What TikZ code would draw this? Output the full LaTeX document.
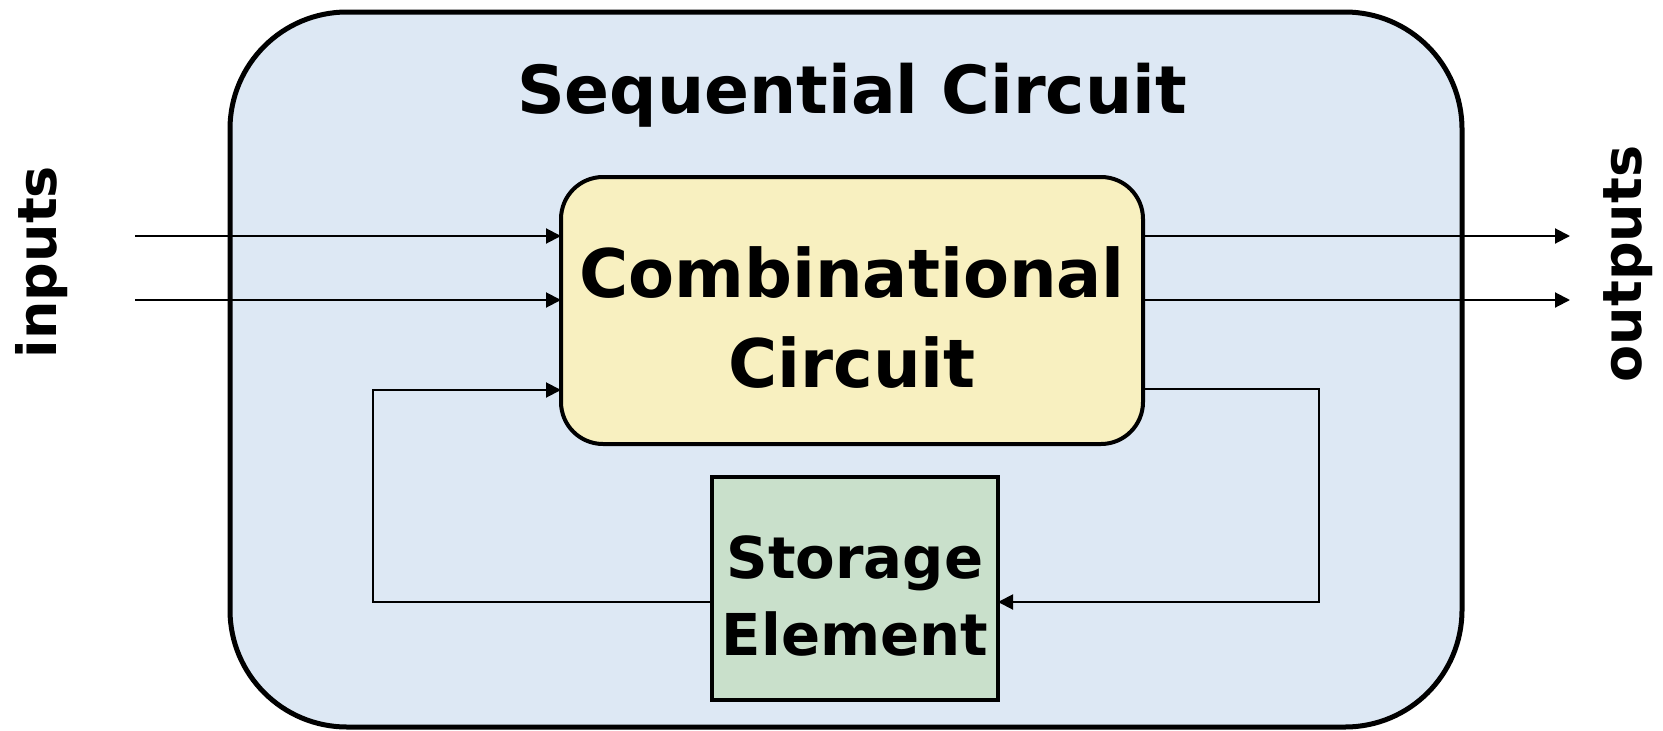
\documentclass[tikz,border=0pt]{standalone}
\usepackage{fontspec}
\setmainfont{DejaVu Sans}
\usetikzlibrary{arrows.meta}
\definecolor{outerfill}{HTML}{DDE8F4}
\definecolor{combfill}{HTML}{F8F0C0}
\definecolor{storefill}{HTML}{C9E0CB}
\tikzset{
  box/.style={draw=black, inner sep=0pt, outer sep=0pt, align=center, font=\bfseries},
  arr/.style={draw=black, line width=2pt, -{Triangle[length=15pt,width=15pt]}},
}
\begin{document}
\begin{tikzpicture}[x=1pt,y=-1pt]
\useasboundingbox (0,0) rectangle (1663,731);
\node[box, fill=outerfill, line width=5pt, rounded corners=117pt, minimum width=1232pt, minimum height=715pt] (outer) at (846,369.5) {};
\node[font=\fontsize{66.3}{80}\bfseries\selectfont, anchor=base] (title) at (852,113) {Sequential Circuit};
\node[box, fill=combfill, line width=4pt, rounded corners=42pt, minimum width=582pt, minimum height=267pt] (comb) at (852,310.5) {};
\node[font=\fontsize{67}{90}\bfseries\selectfont, align=center, anchor=base] (combt) at (852,387) {Combinational\\Circuit};
\node[box, fill=storefill, line width=4pt, minimum width=286pt, minimum height=223pt] (store) at (855,588.5) {};
\node[font=\fontsize{57.7}{77}\bfseries\selectfont, align=center, anchor=base] (storet) at (855,655) {Storage\\Element};
\node[font=\fontsize{54}{60}\bfseries\selectfont, rotate=90] (inputs) at (42,262) {inputs};
\node[font=\fontsize{54}{60}\bfseries\selectfont, rotate=90] (outputs) at (1628,264) {outputs};
\coordinate (in1) at (135,236);
\coordinate (in2) at (135,300);
\coordinate (out1) at (1570,236);
\coordinate (out2) at (1570,300);
\coordinate (fbR1) at (1319,389);
\coordinate (fbR2) at (1319,602);
\coordinate (fbL1) at (373,602);
\coordinate (fbL2) at (373,390);
\draw[arr] (in1) -- (in1 -| comb.west);
\draw[arr] (in2) -- (in2 -| comb.west);
\draw[arr] (out1 -| comb.east) -- (out1);
\draw[arr] (out2 -| comb.east) -- (out2);
\draw[arr] (fbR1 -| comb.east) -- (fbR1) -- (fbR2) -- (fbR2 -| store.east);
\draw[arr] (fbL1 -| store.west) -- (fbL1) -- (fbL2) -- (fbL2 -| comb.west);
\end{tikzpicture}
\end{document}
